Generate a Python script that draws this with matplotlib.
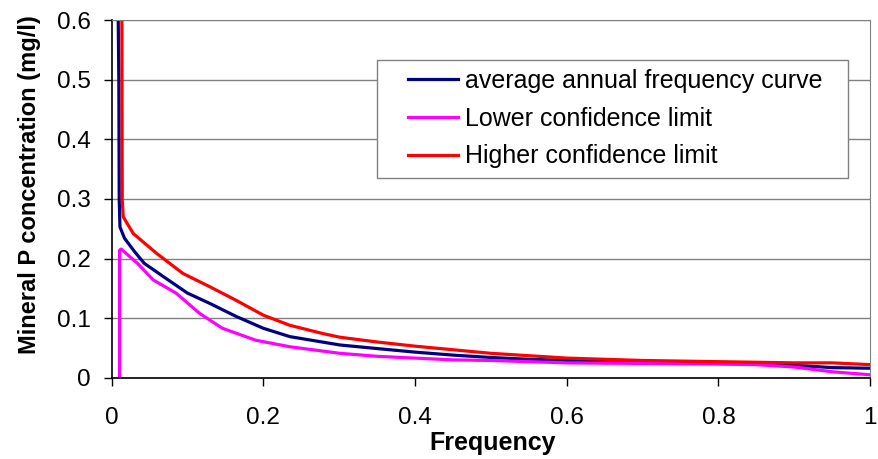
import matplotlib.pyplot as plt
import matplotlib.patches as mpatches
import numpy as np

plt.rcParams['font.family'] = ['Liberation Sans', 'DejaVu Sans']

# frequency / concentration
freq_avg = [0.0087, 0.0095, 0.010, 0.011, 0.017, 0.030, 0.043, 0.069, 0.100, 0.129, 0.164,
            0.200, 0.235, 0.301, 0.350, 0.400, 0.450, 0.500, 0.550, 0.600, 0.700,
            0.800, 0.850, 0.900, 0.950, 1.000]
conc_avg = [0.600, 0.500, 0.300, 0.253, 0.234, 0.212, 0.192, 0.169, 0.142, 0.125, 0.103,
            0.083, 0.069, 0.055, 0.049, 0.043, 0.038, 0.034, 0.031, 0.029, 0.026,
            0.024, 0.023, 0.021, 0.017, 0.016]

freq_low = [0.0105, 0.0105, 0.0125, 0.034, 0.055, 0.085, 0.116, 0.146, 0.190, 0.235,
            0.301, 0.350, 0.400, 0.450, 0.500, 0.550, 0.600, 0.700, 0.800, 0.850,
            0.900, 0.950, 1.000]
conc_low = [0.000, 0.214, 0.216, 0.192, 0.164, 0.142, 0.108, 0.083, 0.063, 0.052,
            0.041, 0.036, 0.033, 0.030, 0.029, 0.027, 0.025, 0.024, 0.023, 0.022,
            0.018, 0.010, 0.005]

freq_high = [0.0135, 0.0140, 0.0153, 0.0285, 0.059, 0.094, 0.129, 0.164, 0.200, 0.235,
             0.279, 0.301, 0.350, 0.400, 0.450, 0.500, 0.550, 0.600, 0.700, 0.800,
             0.850, 0.900, 0.950, 1.000]
conc_high = [0.600, 0.298, 0.270, 0.242, 0.209, 0.175, 0.153, 0.130, 0.105, 0.088,
             0.074, 0.068, 0.060, 0.053, 0.047, 0.041, 0.037, 0.033, 0.029, 0.027,
             0.026, 0.025, 0.025, 0.022]

labels = ['average annual frequency curve', 'Lower confidence limit', 'Higher confidence limit']

W, H = 879, 459
fig = plt.figure(figsize=(W / 100, H / 100), dpi=100)
ax = fig.add_axes([0.127, 0.177, 0.863, 0.779])

ax.plot(freq_avg, conc_avg, color='#000080', lw=2.3, label=labels[0])
ax.plot(freq_low, conc_low, color='#FF00FF', lw=2.3, label=labels[1])
ax.plot(freq_high, conc_high, color='#FF0000', lw=2.3, label=labels[2])

ax.set_xlim(0, 1)
ax.set_ylim(0, 0.6)
ax.set_xticks(np.arange(0, 1.01, 0.2))
ax.set_xticklabels(['0', '0.2', '0.4', '0.6', '0.8', '1'])
ax.set_yticks(np.arange(0, 0.61, 0.1))
ax.set_yticklabels(['0', '0.1', '0.2', '0.3', '0.4', '0.5', '0.6'])
ax.yaxis.grid(True, color='#808080', lw=1)
ax.set_axisbelow(True)
ax.tick_params(direction='out', length=6, width=1, labelsize=17.5, color='black')
ax.tick_params(axis='x', pad=15)
ax.tick_params(axis='y', pad=9)

for s in ['top', 'right']:
    ax.spines[s].set_color('#808080')
for s in ['left', 'bottom']:
    ax.spines[s].set_linewidth(1.2)

# axis titles
fig.text(493 / W, 1 - 443 / H, 'Frequency', fontsize=18, fontweight='bold',
         ha='center', va='center')
fig.text(30 / W, 1 - 185 / H, 'Mineral P concentration (mg/l)', fontsize=17,
         fontweight='bold', ha='center', va='center', rotation=90)

# legend box drawn separately, legend entries without frame
box = mpatches.Rectangle((377 / W, 1 - 178 / H), (848 - 377) / W, (178 - 60) / H,
                         transform=fig.transFigure, facecolor='white',
                         edgecolor='#808080', lw=1, zorder=4, clip_on=False)
ax.add_artist(box)
leg = ax.legend(loc='upper left', bbox_to_anchor=(408 / W, 1 - 69 / H),
                bbox_transform=fig.transFigure, fontsize=18, frameon=False,
                handlelength=2.0, borderpad=0, labelspacing=0.55, handletextpad=0.3,
                borderaxespad=0)
leg.set_zorder(6)

fig.savefig('out.png', dpi=100)
